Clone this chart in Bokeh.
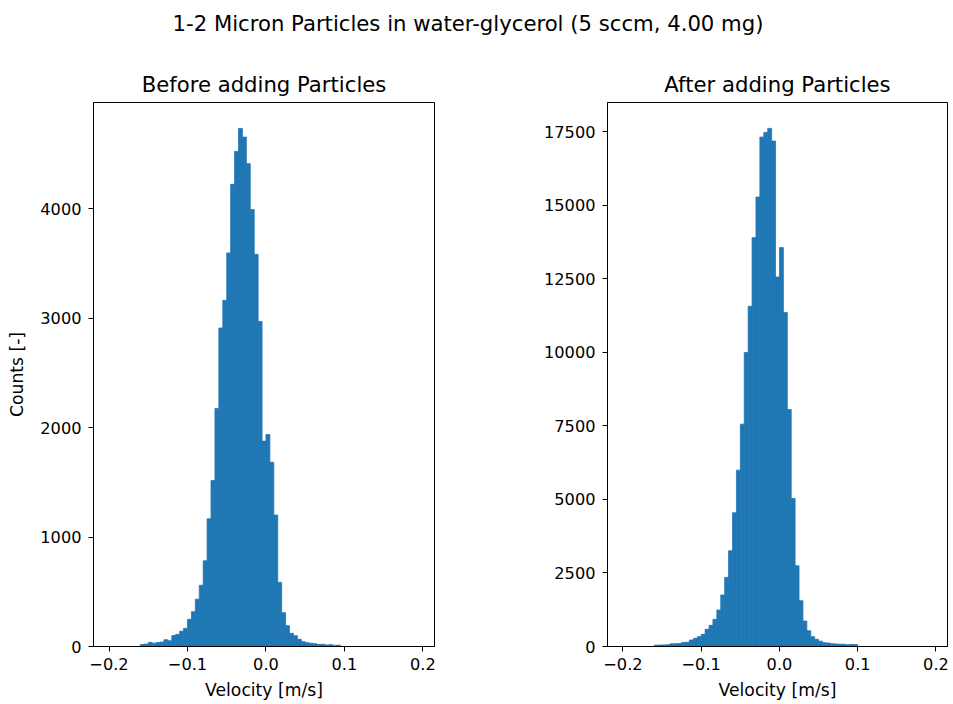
import numpy as np
from bokeh.plotting import figure
from bokeh.layouts import column, row
from bokeh.models import Div, FixedTicker, Range1d, ColumnDataSource
from bokeh.embed import file_html
from bokeh.resources import INLINE

# ---- data ----
suptitle = "1-2 Micron Particles in water-glycerol (5 sccm, 4.00 mg)"
titles = ["Before adding Particles", "After adding Particles"]
x_label = "Velocity [m/s]"
y_label = "Counts [-]"

bin_start = -0.2
bin_width = 0.005
n_bins = 79

# counts per bin (bins 8 .. 58 non-zero), before adding particles
before_counts = [0] * 8 + [
    18, 22, 38, 30, 36, 40, 62, 52, 100, 111,
    140, 166, 248, 318, 432, 560, 783, 1167, 1517, 2176,
    2911, 3164, 3597, 4224, 4525, 4735, 4656, 4413, 3993, 3584,
    2971, 1877, 1938, 1684, 1201, 586, 309, 190, 120, 99,
    66, 44, 35, 29, 26, 18, 20, 14, 17, 10,
    12,
]
before_counts += [0] * (n_bins - len(before_counts))

# counts per bin (bins 8 .. 59 non-zero), after adding particles
after_counts = [0] * 8 + [
    45, 50, 55, 60, 90, 95, 100, 140, 145, 221,
    277, 334, 413, 583, 719, 923, 1240, 1750, 2350, 3255,
    4546, 5995, 7558, 9993, 11566, 13899, 15279, 17317, 17476, 17612,
    17181, 12561, 13560, 11352, 8056, 5033, 2745, 1557, 866, 538,
    334, 243, 180, 130, 120, 95, 85, 80, 75, 60,
    70, 65,
]
after_counts += [0] * (n_bins - len(after_counts))

x_ticks = [-0.2, -0.1, 0.0, 0.1, 0.2]
x_tick_labels = ["\u22120.2", "\u22120.1", "0.0", "0.1", "0.2"]
before_y_ticks = [0, 1000, 2000, 3000, 4000]
after_y_ticks = [0, 2500, 5000, 7500, 10000, 12500, 15000, 17500]

BAR = "#1f77b4"
FONT = "DejaVu Sans"
TICK_FS = "16.2px"
LABEL_FS = "17.2px"
TITLE_FS = "21.2px"


def make_hist(counts, title, yticks, show_ylabel, width, bl, br):
    left = bin_start + bin_width * np.arange(n_bins)
    right = left + bin_width
    src = ColumnDataSource(dict(left=left, right=right, top=counts,
                                bottom=np.zeros(n_bins)))
    lo, hi = left[0], right[-1]
    m = 0.05 * (hi - lo)
    p = figure(width=width, height=656, output_backend="svg",
               toolbar_location=None, title=title,
               x_range=Range1d(lo - m, hi + m),
               y_range=Range1d(0, max(counts) * 1.05),
               min_border_left=bl, min_border_right=br,
               min_border_top=54, min_border_bottom=58)
    p.quad(left="left", right="right", top="top", bottom="bottom",
           source=src, fill_color=BAR, line_color=BAR, line_width=0.8)
    p.grid.visible = False
    p.outline_line_color = "black"
    p.outline_line_width = 1
    p.background_fill_color = "white"
    p.border_fill_color = "white"
    p.title.align = "center"
    p.title.text_font = FONT
    p.title.text_font_size = TITLE_FS
    p.title.text_font_style = "normal"
    p.title.text_color = "black"
    p.title.standoff = 12
    for ax in (p.xaxis[0], p.yaxis[0]):
        ax.minor_tick_line_color = None
        ax.major_tick_in = 0
        ax.major_tick_out = 5
        ax.major_tick_line_color = "black"
        ax.axis_line_color = "black"
        ax.major_label_text_font = FONT
        ax.major_label_text_font_size = TICK_FS
        ax.major_label_text_color = "black"
        ax.axis_label_text_font = FONT
        ax.axis_label_text_font_size = LABEL_FS
        ax.axis_label_text_font_style = "normal"
        ax.axis_label_text_color = "black"
    p.xaxis.ticker = FixedTicker(ticks=x_ticks)
    p.xaxis.major_label_overrides = {t: l for t, l in zip(x_ticks, x_tick_labels)}
    p.xaxis.axis_label = x_label
    p.xaxis.major_label_standoff = 6
    p.xaxis.axis_label_standoff = 7
    p.yaxis.ticker = FixedTicker(ticks=yticks)
    p.yaxis.major_label_standoff = 7
    if show_ylabel:
        p.yaxis.axis_label = y_label
        p.yaxis.axis_label_standoff = 10
    return p


p1 = make_hist(before_counts, titles[0], before_y_ticks, True, 520, 93, 86)
p2 = make_hist(after_counts, titles[1], after_y_ticks, False, 429, 87, 2)

head = Div(text=f'<div style="font-family:\'{FONT}\';font-size:{TITLE_FS};'
                f'color:black;text-align:center;width:926px;padding-top:4px;'
                f'white-space:nowrap;">{suptitle}</div>', width=926, height=38)

layout = column(head, row(p1, p2, spacing=0), spacing=0)

open("out.html", "w").write(file_html(layout, INLINE))
